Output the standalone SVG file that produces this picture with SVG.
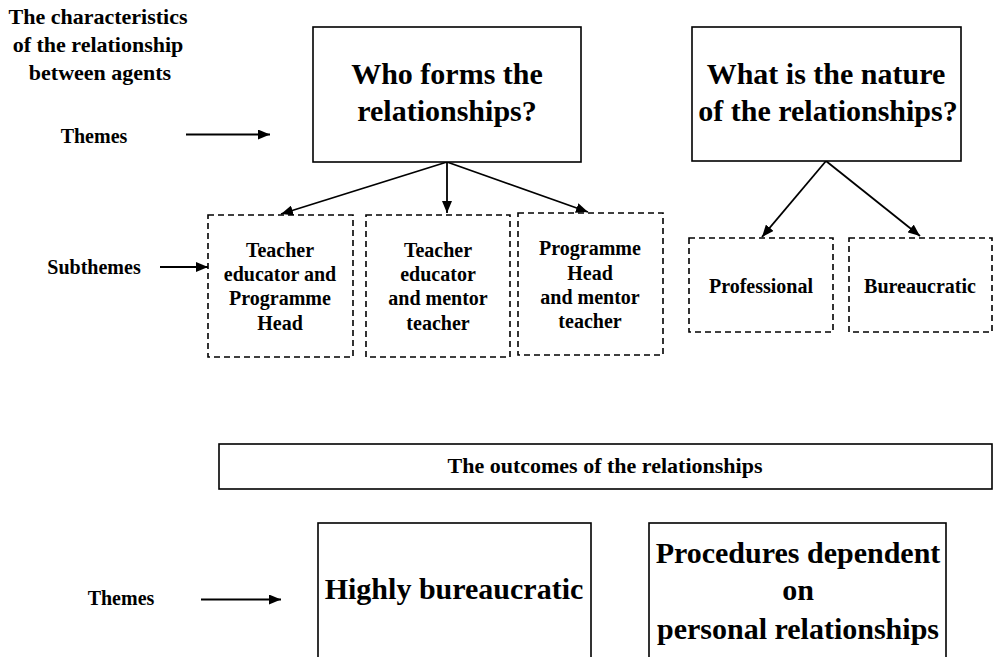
<svg xmlns="http://www.w3.org/2000/svg" width="994" height="657" viewBox="0 0 994 657">
<defs>
<marker id="ah" markerWidth="12" markerHeight="10" refX="12" refY="5" orient="auto" markerUnits="userSpaceOnUse">
<path d="M0,0 L12,5 L0,10 Z" fill="#000"/>
</marker>
<style>
text{font-family:"Liberation Serif","Times New Roman",serif;font-weight:bold;fill:#000;text-anchor:middle}
.solid{fill:#fff;stroke:#000;stroke-width:1.6}
.dash{fill:#fff;stroke:#000;stroke-width:1.6;stroke-dasharray:6 4}
.big{font-size:30px}
.mid{font-size:22px}
.sm{font-size:20px}
.con{stroke:#000;stroke-width:1.8;fill:none;marker-end:url(#ah)}
</style>
</defs>
<rect width="994" height="657" fill="#fff"/>

<g id="labels">
<text class="mid" x="98" y="24">The characteristics</text>
<text class="mid" x="98" y="52">of the relationship</text>
<text class="mid" x="100" y="80">between agents</text>
<text class="sm" x="94" y="143">Themes</text>
<text class="sm" x="94" y="274">Subthemes</text>
<text class="sm" x="121" y="605">Themes</text>
</g>

<g id="connectors">
<line class="con" x1="186" y1="134.5" x2="270" y2="134.5"/>
<line class="con" x1="160" y1="267" x2="208" y2="267"/>
<line class="con" x1="201" y1="599.5" x2="281" y2="599.5"/>
<line class="con" x1="447" y1="162" x2="281" y2="214"/>
<line class="con" x1="447" y1="162" x2="447" y2="213"/>
<line class="con" x1="447" y1="162" x2="588" y2="212"/>
<line class="con" x1="826" y1="161" x2="762" y2="237"/>
<line class="con" x1="826" y1="161" x2="920" y2="236"/>
</g>

<g id="who">
<rect class="solid" x="313" y="27" width="268" height="135"/>
<text class="big" x="447" y="84">Who forms the</text>
<text class="big" x="447" y="121">relationships?</text>
</g>

<g id="nature">
<rect class="solid" x="692" y="27" width="269" height="134"/>
<text class="big" x="826" y="84">What is the nature</text>
<text class="big" x="828" y="121">of the relationships?</text>
</g>

<g id="te-ph">
<rect class="dash" x="208" y="215" width="145" height="142"/>
<text class="sm" x="280" y="257">Teacher</text>
<text class="sm" x="280" y="281">educator and</text>
<text class="sm" x="280" y="305">Programme</text>
<text class="sm" x="280" y="330">Head</text>
</g>

<g id="te-mt">
<rect class="dash" x="366" y="215" width="144" height="142"/>
<text class="sm" x="438" y="257">Teacher</text>
<text class="sm" x="438" y="281">educator</text>
<text class="sm" x="438" y="305">and mentor</text>
<text class="sm" x="438" y="330">teacher</text>
</g>

<g id="ph-mt">
<rect class="dash" x="518" y="213" width="145" height="142"/>
<text class="sm" x="590" y="255">Programme</text>
<text class="sm" x="590" y="280">Head</text>
<text class="sm" x="590" y="304">and mentor</text>
<text class="sm" x="590" y="328">teacher</text>
</g>

<g id="professional">
<rect class="dash" x="689" y="238" width="144" height="94"/>
<text class="sm" x="761" y="293">Professional</text>
</g>

<g id="bureaucratic">
<rect class="dash" x="849" y="238" width="143" height="94"/>
<text class="sm" x="920" y="293">Bureaucratic</text>
</g>

<g id="outcomes">
<rect class="solid" x="219" y="444" width="773" height="45"/>
<text class="mid" x="605" y="473">The outcomes of the relationships</text>
</g>

<g id="highly">
<rect class="solid" x="318" y="523" width="273" height="140"/>
<text class="big" x="454" y="599">Highly bureaucratic</text>
</g>

<g id="procedures">
<rect class="solid" x="649" y="523" width="297" height="140"/>
<text class="big" x="798" y="563">Procedures dependent</text>
<text class="big" x="798" y="600">on</text>
<text class="big" x="798" y="639">personal relationships</text>
</g>
</svg>
